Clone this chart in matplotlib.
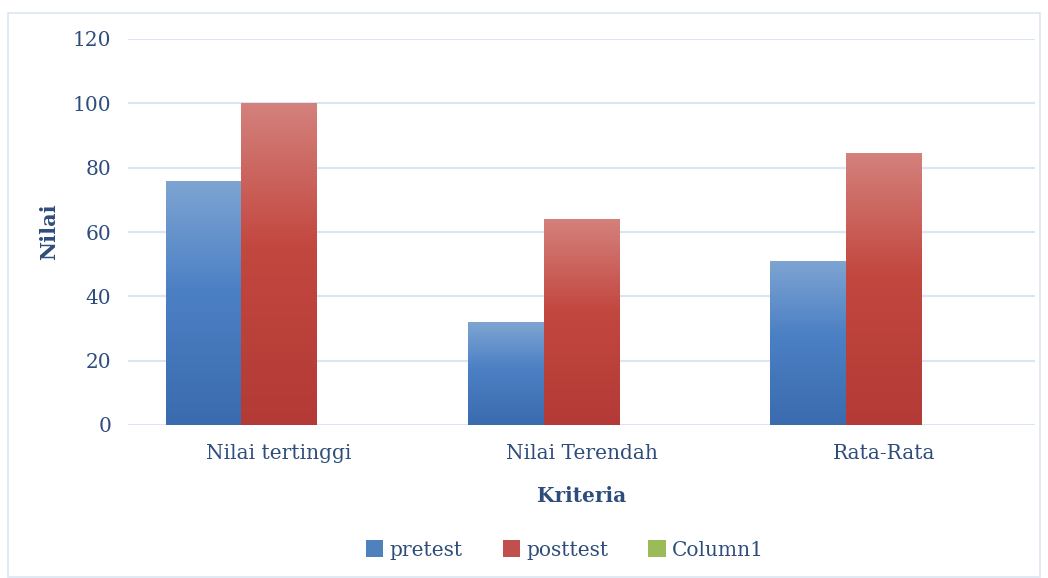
import matplotlib
matplotlib.use("Agg")
import matplotlib.pyplot as plt
import matplotlib.patches as mpatches
from matplotlib.colors import LinearSegmentedColormap
import numpy as np

categories = ["Nilai tertinggi", "Nilai Terendah", "Rata-Rata"]
pretest = [76, 32, 51]
posttest = [100, 64, 84.5]
column1 = [0, 0, 0]
series_names = ["pretest", "posttest", "Column1"]
yticks = [0, 20, 40, 60, 80, 100, 120]

TXT = "#2E4D7B"
GRID = "#D9E4F4"
plt.rcParams['font.family'] = ['DejaVu Serif']

fig = plt.figure(figsize=(10.48, 5.78), dpi=100)
ax = fig.add_axes([128/1048, 1-425/578, (1035-128)/1048, (425-39)/578])

# outer border
fig.patches.append(mpatches.Rectangle((8/1048, 0.002), (1040-8)/1048, 1-13/578-0.002,
                                      transform=fig.transFigure, fill=False,
                                      edgecolor="#DCE5F2", lw=1.2))

x = np.arange(len(categories))
w = 0.25
grads = {
    "pretest": LinearSegmentedColormap.from_list("b", [(0, "#3A6BAE"), (0.55, "#4C80C4"), (1, "#7EA5D2")]),
    "posttest": LinearSegmentedColormap.from_list("r", [(0, "#B33A36"), (0.55, "#C2473F"), (1, "#D4817C")]),
    "Column1": LinearSegmentedColormap.from_list("g", ["#7FA03C", "#9BBB59", "#B5CE85"]),
}
solid = {"pretest": "#4F81BD", "posttest": "#C0504D", "Column1": "#9BBB59"}

ax.set_xlim(-0.5, 2.5)
ax.set_ylim(0, 120)
for i, (name, vals) in enumerate(zip(series_names, [pretest, posttest, column1])):
    bars = ax.bar(x + (i - 1) * w, vals, width=w, color=solid[name],
                  edgecolor="none", zorder=2)
    for b in bars:
        h = b.get_height()
        if h <= 0:
            continue
        x0 = b.get_x()
        grad = np.linspace(0, 1, 256).reshape(-1, 1)
        im = ax.imshow(grad, cmap=grads[name], origin="lower", aspect="auto",
                       extent=(x0, x0 + b.get_width(), 0, h), zorder=3)
        im.set_clip_path(b)

ax.set_xlim(-0.5, 2.5)
ax.set_ylim(0, 120)
ax.set_yticks(yticks)
ax.set_xticks(x)
ax.set_xticklabels(categories)
ax.tick_params(length=0, labelsize=14.5, colors=TXT)
ax.tick_params(axis='x', pad=14)
ax.tick_params(axis='y', pad=12)
for s in ax.spines.values():
    s.set_visible(False)
ax.grid(axis='y', color=GRID, lw=1.5, zorder=0)
ax.set_axisbelow(True)

ax.set_ylabel("Nilai", fontsize=15, fontweight='bold', color=TXT, labelpad=10)
ax.set_xlabel("Kriteria", fontsize=14.5, fontweight='bold', color=TXT, labelpad=16)

handles = [mpatches.Patch(facecolor=solid[n], edgecolor="none", label=n) for n in series_names]
leg = fig.legend(handles=handles, loc="center", bbox_to_anchor=(565/1048, 1-550/578),
                 ncol=3, frameon=False, fontsize=14.5, handlelength=0.85, handleheight=0.85,
                 handletextpad=0.3, columnspacing=2.0)
for t in leg.get_texts():
    t.set_color(TXT)

fig.savefig("out.png", dpi=100)
